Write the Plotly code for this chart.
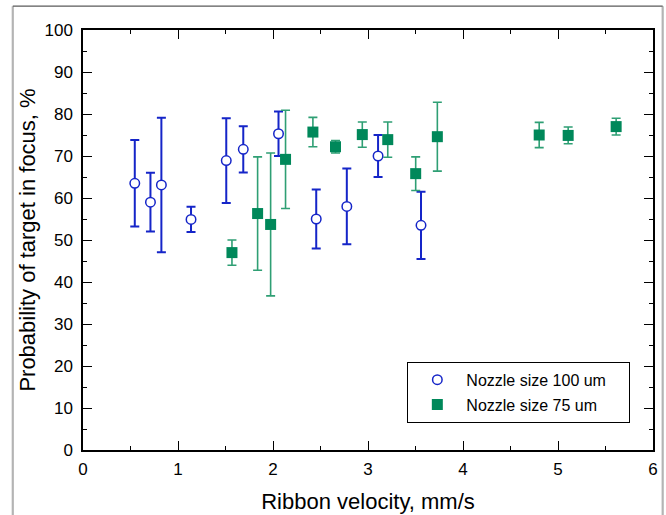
import plotly.graph_objects as go

# Nozzle size 100 um (open circles)
x100 = [0.545, 0.71, 0.825, 1.137, 1.508, 1.687, 2.058, 2.455, 2.777, 3.106, 3.558]
y100 = [63.5, 59.0, 63.1, 54.9, 68.9, 71.6, 75.3, 55.0, 58.0, 70.0, 53.5]
e100 = [10.3, 7.0, 16.0, 3.0, 10.1, 5.5, 5.3, 7.0, 9.0, 5.0, 8.0]

# Nozzle size 75 um (filled squares)
x75 = [1.568, 1.838, 1.975, 2.132, 2.42, 2.658, 2.94, 3.208, 3.502, 3.73, 4.802, 5.107, 5.612]
y75 = [47.0, 56.3, 53.7, 69.2, 75.7, 72.2, 75.1, 73.9, 65.8, 74.6, 75.0, 74.9, 77.0]
e75 = [3.0, 13.5, 17.0, 11.7, 3.5, 1.5, 3.0, 4.2, 4.0, 8.2, 3.0, 2.0, 2.0]

x_ticks = [0, 1, 2, 3, 4, 5, 6]
y_ticks = [0, 10, 20, 30, 40, 50, 60, 70, 80, 90, 100]

FONT = "Liberation Sans, Arial, sans-serif"
BLUE = "#1525c8"
GREEN = "#00885a"
GREEN_ERR = "#2f9f74"
PAD = "\u00a0\u00a0\u00a0\u00a0"

fig = go.Figure()
fig.add_trace(go.Scatter(
    x=x100, y=y100, mode="markers", name="Nozzle size 100 um" + PAD,
    legendgroup="a",
    marker=dict(symbol="circle", size=9.5, color="white",
                line=dict(color=BLUE, width=1.5)),
    error_y=dict(type="data", array=e100, visible=True, color=BLUE,
                 thickness=2, width=4.5),
))
fig.add_trace(go.Scatter(
    x=x75, y=y75, mode="markers", name="Nozzle size 75 um",
    legendgroup="b",
    marker=dict(symbol="square", size=11, color=GREEN,
                line=dict(color=GREEN, width=0)),
    error_y=dict(type="data", array=e75, visible=True, color=GREEN_ERR,
                 thickness=1.6, width=4.5),
))

axis_common = dict(
    showline=True, linecolor="black", linewidth=1.5, mirror="allticks",
    ticks="inside", ticklen=9, tickwidth=1.2, tickcolor="black",
    showgrid=False, zeroline=False, automargin=False,
    tickfont=dict(family=FONT, size=17, color="black"),
    title_font=dict(family=FONT, size=22, color="black"),
)

fig.update_xaxes(
    range=[0, 6], tickvals=x_ticks, ticktext=[str(v) for v in x_ticks],
    minor=dict(ticks="inside", dtick=0.5, ticklen=4, tickwidth=1.2, tickcolor="black"),
    title_text="Ribbon velocity, mm/s", title_standoff=15, ticklabelstandoff=3,
    **axis_common,
)
fig.update_yaxes(
    range=[0, 100], tickvals=y_ticks, ticktext=[str(v) for v in y_ticks],
    minor=dict(ticks="inside", dtick=5, ticklen=4, tickwidth=1.2, tickcolor="black"),
    title_text="Probability of target in focus, %", title_standoff=3, ticklabelstandoff=5,
    **axis_common,
)

# outer frame of the picture
fig.add_shape(type="line", xref="paper", yref="paper", x0=-0.1232, x1=-0.1232,
              y0=-0.25, y1=1.0567, line=dict(color="#b4b4b4", width=2.2))
fig.add_shape(type="line", xref="paper", yref="paper", x0=1.017, x1=1.017,
              y0=-0.25, y1=1.0567, line=dict(color="#b4b4b4", width=2.2))
fig.add_shape(type="line", xref="paper", yref="paper", x0=-0.1232, x1=1.017,
              y0=1.0567, y1=1.0567, line=dict(color="#5a5a5a", width=1.2))

fig.update_layout(
    width=666, height=515,
    margin=dict(l=83, r=13, t=30, b=65, autoexpand=False),
    paper_bgcolor="white", plot_bgcolor="white",
    font=dict(family=FONT, size=16, color="black"),
    showlegend=True,
    legend=dict(
        x=0.569, y=0.21, xanchor="left", yanchor="top",
        bgcolor="white", bordercolor="black", borderwidth=1,
        font=dict(family=FONT, size=16, color="black"),
        itemwidth=48, tracegroupgap=1,
    ),
)

fig.write_html(
    "out.html",
    config={"displayModeBar": False},
    post_script="document.body.style.margin='0px';document.body.style.overflow='hidden';",
)
